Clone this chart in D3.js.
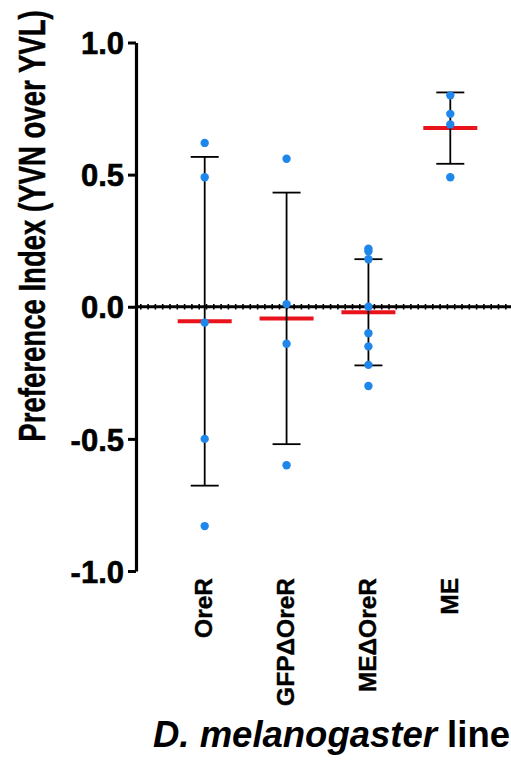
<!DOCTYPE html>
<html><head><meta charset="utf-8">
<script src="https://cdn.jsdelivr.net/npm/d3@7"></script>
<style>body{margin:0;background:#fff}svg{display:block}text{font-family:"Liberation Sans",Arial,sans-serif;font-weight:bold}</style>
</head><body>
<svg id="c" width="511" height="763"></svg>
<script>
const categories = ["OreR", "GFPΔOreR", "MEΔOreR", "ME"];
const pointsOreR = [0.62, 0.49, -0.06, -0.50, -0.83];
const pointsGFP = [0.56, 0.01, -0.14, -0.60];
const pointsMEd = [0.22, 0.21, 0.18, 0.00, -0.10, -0.15, -0.22, -0.30];
const pointsME = [0.80, 0.73, 0.69, 0.49];
const means = [-0.055, -0.044, -0.021, 0.676];
const sds = [0.622, 0.476, 0.201, 0.135];
const yTicks = [-1.0, -0.5, 0.0, 0.5, 1.0];
const groups = [pointsOreR, pointsGFP, pointsMEd, pointsME];

const svg = d3.select("#c");
const y = d3.scaleLinear().domain([-1, 1]).range([571, 42.5]);
const x = d3.scalePoint().domain(categories).range([204.7, 450.3]);
const axisX = 136;

// y axis
const yAxis = d3.axisLeft(y).tickValues(yTicks).tickFormat(d3.format(".1f")).tickSize(8).tickSizeOuter(0);
const ga = svg.append("g").attr("transform", `translate(${axisX},0)`).call(yAxis);
ga.select(".domain").attr("stroke", "#000").attr("stroke-width", 3.2);
ga.selectAll(".tick line").attr("stroke", "#000").attr("stroke-width", 3);
ga.selectAll(".tick text").attr("x", -12).attr("dy", "0.36em").style("font-size", "31px").attr("fill", "#000")
  .attr("stroke", "#000").attr("stroke-width", 0.6)
  .text(d => d3.format(".1f")(d).replace("−", "-"));

// zero line
svg.append("line").attr("x1", axisX).attr("x2", 511).attr("y1", y(0)).attr("y2", y(0))
  .attr("stroke", "#000").attr("stroke-width", 3.2);
svg.append("line").attr("x1", axisX + 4).attr("x2", 511).attr("y1", y(0)).attr("y2", y(0))
  .attr("stroke", "#000").attr("stroke-width", 5.5).attr("stroke-dasharray", "1.6,5.7");

// means (red)
svg.selectAll(".mean").data(categories).join("line").attr("class", "mean")
  .attr("x1", d => x(d) - 27).attr("x2", d => x(d) + 27)
  .attr("y1", (d, i) => y(means[i])).attr("y2", (d, i) => y(means[i]))
  .attr("stroke", "#e8131b").attr("stroke-width", 4);

// error bars
const eb = svg.selectAll(".eb").data(categories).join("g").attr("class", "eb");
eb.append("line").attr("x1", d => x(d)).attr("x2", d => x(d))
  .attr("y1", (d, i) => y(means[i] + sds[i])).attr("y2", (d, i) => y(means[i] - sds[i]))
  .attr("stroke", "#000").attr("stroke-width", 1.8);
eb.append("line").attr("x1", d => x(d) - 14).attr("x2", d => x(d) + 14)
  .attr("y1", (d, i) => y(means[i] + sds[i])).attr("y2", (d, i) => y(means[i] + sds[i]))
  .attr("stroke", "#000").attr("stroke-width", 1.8);
eb.append("line").attr("x1", d => x(d) - 14).attr("x2", d => x(d) + 14)
  .attr("y1", (d, i) => y(means[i] - sds[i])).attr("y2", (d, i) => y(means[i] - sds[i]))
  .attr("stroke", "#000").attr("stroke-width", 1.8);

// points
const pts = [];
groups.forEach((g, i) => g.forEach(v => pts.push({c: categories[i], v})));
svg.selectAll(".pt").data(pts).join("circle").attr("class", "pt")
  .attr("cx", d => x(d.c)).attr("cy", d => y(d.v)).attr("r", 4.2).attr("fill", "#1f86ea");

// x tick labels
svg.selectAll(".xl").data(categories).join("text").attr("class", "xl")
  .attr("transform", d => `translate(${x(d) + 7.5},578) rotate(-90)`)
  .attr("text-anchor", "end").style("font-size", "24.5px").attr("fill", "#000")
  .attr("stroke", "#000").attr("stroke-width", 0.4).text(d => d);

// y title
svg.append("text").attr("transform", "translate(45,226) rotate(-90) scale(0.745,1)")
  .attr("text-anchor", "middle").style("font-size", "37px").attr("fill", "#000")
  .attr("stroke", "#000").attr("stroke-width", 0.5)
  .text("Preference Index (YVN over YVL)");

// x title
const xt = svg.append("text").attr("x", 510).attr("y", 747).attr("text-anchor", "end")
  .style("font-size", "36.5px").attr("fill", "#000");
xt.append("tspan").style("font-style", "italic").text("D. melanogaster");
xt.append("tspan").text(" line");
</script>
</body></html>
